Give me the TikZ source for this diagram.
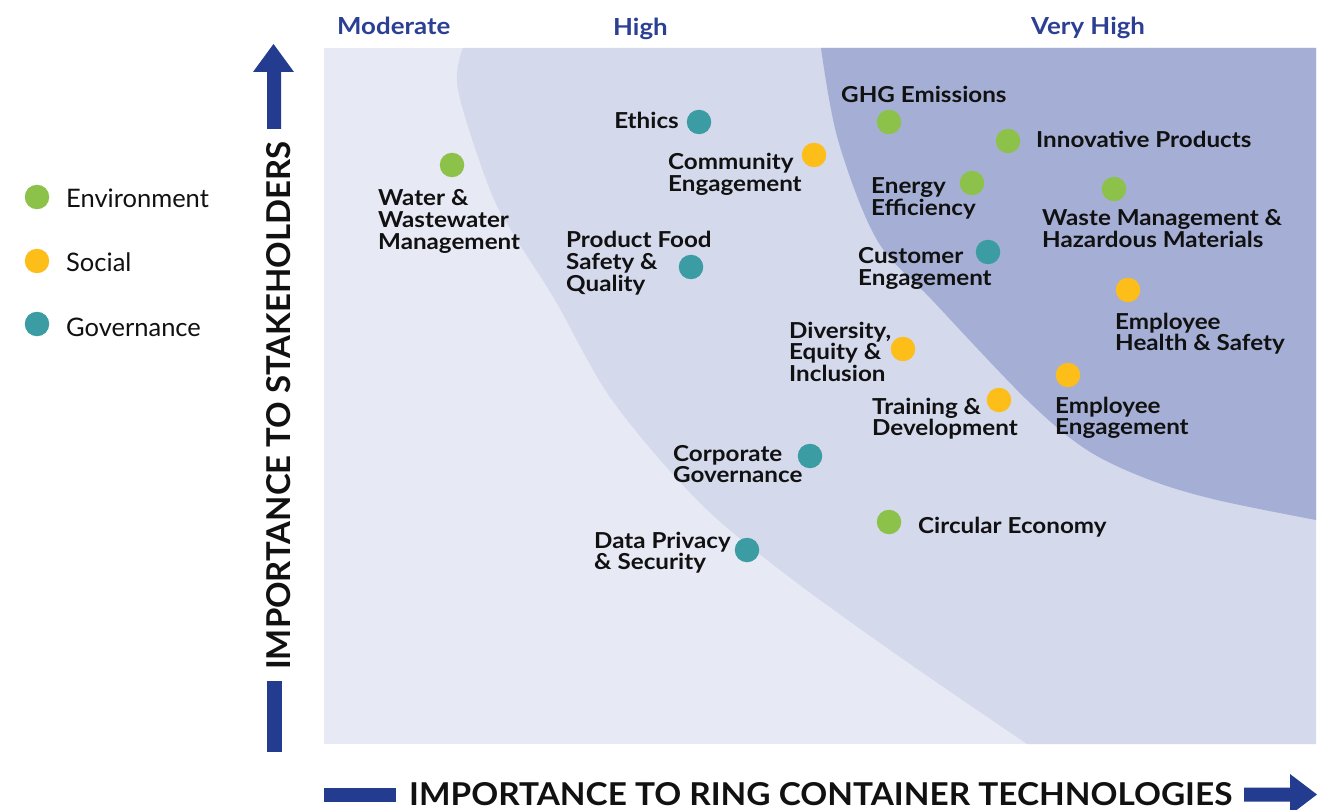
\documentclass[tikz,border=0pt]{standalone}
\usepackage{fontspec}
\setmainfont{Lato}
\newfontfamily\lblfont[FakeStretch=1.1]{Lato}
\definecolor{bglight}{HTML}{E7E9F5}
\definecolor{bgmid}{HTML}{D4D9EC}
\definecolor{bgdark}{HTML}{A5AFD5}
\definecolor{axisblue}{HTML}{243C90}
\definecolor{headblue}{HTML}{2B3F94}
\definecolor{envgreen}{HTML}{8DC24A}
\definecolor{socyellow}{HTML}{FDBE1A}
\definecolor{govteal}{HTML}{3B9CA4}
\definecolor{ink}{HTML}{111111}
\newcommand{\ml}[1]{\vtop{\lineskiplimit=-100pt\relax\let\\\cr\halign{##\hfil\cr#1\crcr}}}
\begin{document}
\begin{tikzpicture}[x=1pt,y=-1pt,
  dot/.style={circle,inner sep=0pt,minimum size=24.5pt},
  env/.style={dot,fill=envgreen},
  soc/.style={dot,fill=socyellow},
  gov/.style={dot,fill=govteal},
  lbl/.style={inner sep=0pt,anchor=base west,text=ink,font=\lblfont\bfseries\fontsize{22}{21.7}\selectfont},
  head/.style={inner sep=0pt,anchor=base west,text=headblue,font=\lblfont\bfseries\fontsize{23.5}{26}\selectfont},
  legend/.style={inner sep=0pt,anchor=base west,text=ink,font=\fontsize{25.5}{28}\selectfont},
  axistext/.style={inner sep=0pt,anchor=base west,text=ink}]
\useasboundingbox (0,0) rectangle (1327,810);
\fill[white] (0,0) rectangle (1327,810);
% plot background regions
\fill[bglight] (324,48) rectangle (1316,744);
\fill[bgmid] plot[smooth,tension=0.55] coordinates {(463,48) (458,90) (490,190) (517,240) (555,300) (612,400) (697,500) (780,570) (890,650) (1027,744)} -- (1316,744) -- (1316,48) -- cycle;
\fill[bgdark] plot[smooth,tension=0.55] coordinates {(821,48) (838,140) (877,240) (932,300) (1027,400) (1087,450) (1150,480) (1217,500) (1316,520)} -- (1316,48) -- cycle;
% column headers
\node[head] (hmod) at (337,35) {Moderate};
\node[head] (hhigh) at (613,35.5) {High};
\node[head] (hvhigh) at (1031,35) {Very High};
% axes arrows
\fill[axisblue] (267,129) -- (267,72) -- (253,72) -- (273.5,44) -- (294,72) -- (281,72) -- (281,129) -- cycle;
\fill[axisblue] (266.5,681) rectangle (281.5,752);
\fill[axisblue] (324,787.5) rectangle (396,801.5);
\fill[axisblue] (1244,787.5) -- (1290,787.5) -- (1290,774) -- (1317,794.5) -- (1290,815) -- (1290,801.5) -- (1244,801.5) -- cycle;
\node[axistext,rotate=90] (yaxis) at (290,670) {\resizebox{528pt}{24pt}{\bfseries IMPORTANCE TO STAKEHOLDERS}};
\node[axistext] (xaxis) at (409,805) {\resizebox{823pt}{23pt}{\bfseries IMPORTANCE TO RING CONTAINER TECHNOLOGIES}};
% legend
\node[env] (legenv) at (37,197) {};
\node[soc] (legsoc) at (37,261) {};
\node[gov] (leggov) at (37,324) {};
\node[legend] (tenv) at (66,208) {Environment};
\node[legend] (tsoc) at (66,272) {Social};
\node[legend] (tgov) at (66,336) {Governance};
% topics
\node[env] (water) at (452,165) {};
\node[lbl] (twater) at (378,206) {\ml{Water \&\\Wastewater\\Management}};
\node[gov] (ethics) at (699,122) {};
\node[lbl,anchor=base east] (tethics) at (679,129) {Ethics};
\node[soc] (comm) at (814,155) {};
\node[lbl] (tcomm) at (668,170) {\ml{Community\\Engagement}};
\node[gov] (food) at (691,267) {};
\node[lbl] (tfood) at (566,248) {\ml{Product Food\\Safety \&\\Quality}};
\node[env] (ghg) at (889,122) {};
\node[lbl] (tghg) at (841,102.5) {GHG Emissions};
\node[env] (innov) at (1008,141) {};
\node[lbl] (tinnov) at (1036,148) {Innovative Products};
\node[env] (energy) at (972,183) {};
\node[lbl] (tenergy) at (871,193.5) {\ml{Energy\\Efficiency}};
\node[env] (waste) at (1114,189) {};
\node[lbl] (twaste) at (1042,226) {\ml{Waste Management \&\\Hazardous Materials}};
\node[gov] (cust) at (988,252) {};
\node[lbl] (tcust) at (858,263.5) {\ml{Customer\\Engagement}};
\node[soc] (ehs) at (1128,290) {};
\node[lbl] (tehs) at (1115,329) {\ml{Employee\\Health \& Safety}};
\node[soc] (dei) at (903,349) {};
\node[lbl] (tdei) at (789,338) {\ml{Diversity,\\Equity \&\\Inclusion}};
\node[soc] (train) at (999,400) {};
\node[lbl] (ttrain) at (872,414) {\ml{Training \&\\Development}};
\node[soc] (eeng) at (1068,375) {};
\node[lbl] (teeng) at (1055,413) {\ml{Employee\\Engagement}};
\node[gov] (corp) at (810,456) {};
\node[lbl] (tcorp) at (673,461) {\ml{Corporate\\Governance}};
\node[env] (circ) at (889,522) {};
\node[lbl] (tcirc) at (918,533.5) {Circular Economy};
\node[gov] (data) at (747,550) {};
\node[lbl] (tdata) at (594,548) {\ml{Data Privacy\\\& Security}};
\end{tikzpicture}
\end{document}
